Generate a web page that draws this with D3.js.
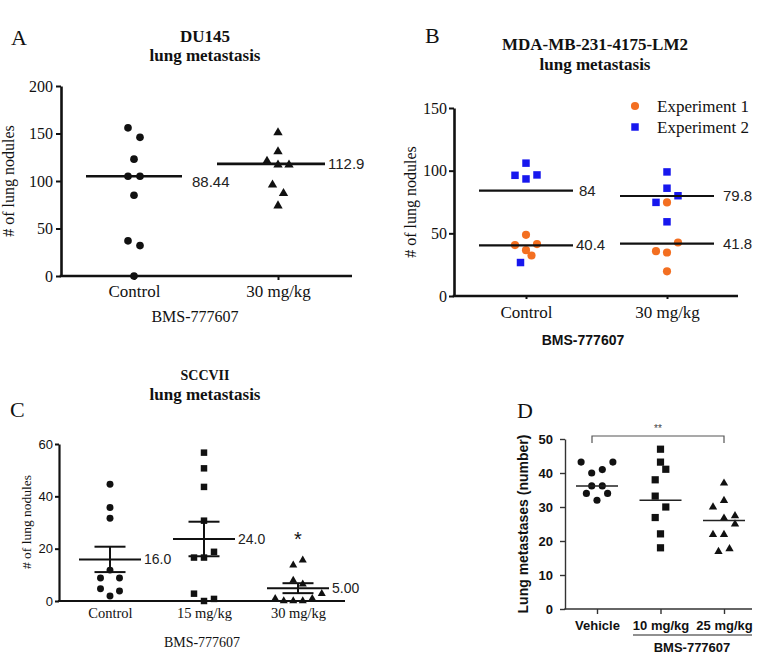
<!DOCTYPE html>
<html><head><meta charset="utf-8">
<script src="https://cdn.jsdelivr.net/npm/d3@7/dist/d3.min.js"></script>
<style>body{margin:0;background:#fff}</style>
</head><body><svg id="c" width="760" height="659" xmlns="http://www.w3.org/2000/svg"></svg>
<script>
// ================= DATA =================
// Panel A : DU145
const aGroups = ["Control", "30 mg/kg"];
const aTicks = [0, 50, 100, 150, 200];
const aControl = [156, 146, 123, 105, 105, 85, 37, 32, 0];
const aControlSlot = [-1, 1, 0, -1, 1, 0, -1, 1, 0];
const aDose = [151, 131, 121, 117, 117, 96, 87, 74];
const aDoseSlot = [0, 0, -2, 0, 2, -1, 1, 0];
const aLineValues = [105, 118];
const aLineLabels = ["88.44", "112.9"];

// Panel B : MDA-MB-231-4175-LM2
const bGroups = ["Control", "30 mg/kg"];
const bTicks = [0, 50, 100, 150];
const bSeries = ["Experiment 1", "Experiment 2"];
const bExp1Control = [48.8, 40.6, 41.4, 36.6, 32.3];
const bExp1ControlSlot = [0, -2, 2, 0, 1];
const bExp2Control = [106, 96.3, 93.4, 96.6, 26.7];
const bExp2ControlSlot = [0, -2, 0, 2, -1];
const bExp1Dose = [74.7, 42.7, 35.8, 34.7, 19.7];
const bExp1DoseSlot = [0, 2, -2, 0, 0];
const bExp2Dose = [99, 86, 80, 74.7, 59.2];
const bExp2DoseSlot = [0, 0, 2, -2, 0];
const bExp2Lines = [84, 79.8];
const bExp1Lines = [40.4, 41.8];
const bExp2LineLabels = ["84", "79.8"];
const bExp1LineLabels = ["40.4", "41.8"];

// Panel C : SCCVII
const cGroups = ["Control", "15 mg/kg", "30 mg/kg"];
const cTicks = [0, 20, 40, 60];
const cControl = [44.6, 35.7, 31.6, 11.8, 8.8, 8.8, 4.7, 3.8, 1.9];
const cControlSlot = [0, 0, 0, 0, -1, 1, -1, 1, 0];
const cDose15 = [56.7, 50.7, 43.6, 30.7, 18.8, 16.6, 16.6, 2.8, 0, 0.8];
const cDose15Slot = [0, 0, 0, 0, 1, -1, 0, -1, 0, 1];
const cDose30 = [15.6, 13.7, 7.9, 6.4, 0.9, 0, 0, 0, 0.9, 2.8];
const cDose30Slot = [0.5, -0.5, -0.5, 0.5, -2.4, -1.5, -0.5, 0.5, 1.5, 2.5];
const cMean = [15.9, 23.7, 4.9];
const cSem = [4.85, 6.6, 1.9];
const cMeanLabels = ["16.0", "24.0", "5.00"];

// Panel D : BMS-777607
const dGroups = ["Vehicle", "10 mg/kg", "25 mg/kg"];
const dTicks = [0, 10, 20, 30, 40, 50];
const dVehicle = [43.2, 43.2, 41, 40, 36.2, 36.2, 34, 34, 32];
const dVehicleSlot = [-3, 3, 1, -1, -1, 1, -2, 2, 0];
const dDose10 = [47, 43.2, 41.1, 38, 33.2, 30, 26.9, 22.1, 18];
const dDose10Slot = [0, 0, 1, -1, -1, 1, -1, 0, 0];
const dDose25 = [37, 31.9, 30, 27.4, 26.7, 25, 21.9, 21.9, 17.7, 16.9];
const dDose25Slot = [0, 0, -2, 2, 0, 2, -2, 0, 1, -1];
const dMedian = [36.2, 32, 26];

// ================= DRAW =================
const svg = d3.select("#c");
const SERIF = "'Liberation Serif', 'Times New Roman', serif";
const SANS = "'Liberation Sans', Arial, sans-serif";

function txt(g, s, x, y, opt = {}) {
  return g.append("text").attr("x", x).attr("y", y).text(s)
    .attr("font-family", opt.font || SERIF)
    .attr("font-size", opt.size || 16)
    .attr("font-weight", opt.weight || "normal")
    .attr("text-anchor", opt.anchor || "middle")
    .attr("fill", opt.fill || "#111");
}

function axes(g, x, y, c) {
  const ya = g.append("g").attr("transform", `translate(${c.axisX},0)`)
    .call(d3.axisLeft(y).tickValues(c.ticks).tickSize(c.yTick).tickSizeOuter(0).tickPadding(c.yPad));
  ya.select(".domain").attr("stroke", c.axisColor).attr("stroke-width", c.axisW);
  ya.selectAll(".tick line").attr("stroke", c.axisColor).attr("stroke-width", c.tickW);
  ya.selectAll(".tick text").attr("font-family", c.tickFont).attr("font-size", c.tickSize)
    .attr("font-weight", c.tickWeight || "normal").attr("fill", "#111");
  const xa = g.append("g").attr("transform", `translate(0,${y(0)})`)
    .call(d3.axisBottom(x).tickSize(c.xTick).tickSizeOuter(0).tickPadding(c.xPad));
  xa.select(".domain").remove();
  xa.selectAll(".tick line").attr("stroke", c.axisColor).attr("stroke-width", c.tickW);
  xa.selectAll(".tick text").attr("font-family", c.xFont || c.tickFont).attr("font-size", c.xSize)
    .attr("font-weight", c.tickWeight || "normal").attr("fill", "#111");
  g.append("line").attr("x1", c.axisX - c.axisW / 2).attr("x2", c.xEnd)
    .attr("y1", y(0)).attr("y2", y(0)).attr("stroke", c.axisColor).attr("stroke-width", c.axisW);
}

function dots(g, vals, slots, cx, unit, y, sym, size, fill) {
  g.selectAll(null).data(vals).enter().append("path")
    .attr("d", d3.symbol().type(sym).size(size))
    .attr("transform", (d, i) => `translate(${cx + slots[i] * unit},${y(d)})`)
    .attr("fill", fill);
}

function hline(g, x1, x2, yy, w, col) {
  g.append("line").attr("x1", x1).attr("x2", x2).attr("y1", yy).attr("y2", yy)
    .attr("stroke", col || "#111").attr("stroke-width", w);
}

// ---------- Panel A ----------
{
  const g = svg.append("g");
  const x = d3.scalePoint().domain(aGroups).range([134, 278]);
  const y = d3.scaleLinear().domain([0, 200]).range([276, 86]);
  axes(g, x, y, { axisX: 61, xEnd: 352, ticks: aTicks, yTick: 5, yPad: 3, xTick: 4, xPad: 5,
    axisW: 2.6, tickW: 2, axisColor: "#111", tickFont: SERIF, tickSize: 16, xSize: 17 });
  dots(g, aControl, aControlSlot, x("Control"), 6, y, d3.symbolCircle, 46, "#111");
  dots(g, aDose, aDoseSlot, x("30 mg/kg"), 5.5, y, d3.symbolTriangle, 38, "#111");
  const spans = [[-48, 48], [-61, 47]];
  aGroups.forEach((k, i) => {
    hline(g, x(k) + spans[i][0], x(k) + spans[i][1], y(aLineValues[i]), 2.6);
  });
  txt(g, aLineLabels[0], x("Control") + 58, y(aLineValues[0]) + 11, { font: SANS, size: 15, anchor: "start", fill: "#222" });
  txt(g, aLineLabels[1], x("30 mg/kg") + 50, y(aLineValues[1]) + 5, { font: SANS, size: 15, anchor: "start", fill: "#222" });
  txt(g, "A", 11, 45, { size: 22, anchor: "start" });
  txt(g, "DU145", 205, 42, { size: 17, weight: "bold" });
  txt(g, "lung metastasis", 205, 61, { size: 17, weight: "bold" });
  txt(g, "BMS-777607", 195, 322, { size: 16 });
  txt(g, "# of lung nodules", 0, 0, { size: 16 }).attr("transform", "translate(14,181) rotate(-90)");
}

// ---------- Panel B ----------
{
  const g = svg.append("g");
  const x = d3.scalePoint().domain(bGroups).range([526, 667]);
  const y = d3.scaleLinear().domain([0, 150]).range([296, 108]);
  axes(g, x, y, { axisX: 454, xEnd: 738, ticks: bTicks, yTick: 5, yPad: 2, xTick: 3, xPad: 7,
    axisW: 2.6, tickW: 2, axisColor: "#111", tickFont: SERIF, tickSize: 16, xSize: 17 });
  const orange = "#f36f21", blue = "#1717ee";
  dots(g, bExp1Control, bExp1ControlSlot, x("Control"), 5.5, y, d3.symbolCircle, 52, orange);
  dots(g, bExp2Control, bExp2ControlSlot, x("Control"), 5.5, y, d3.symbolSquare, 56, blue);
  dots(g, bExp1Dose, bExp1DoseSlot, x("30 mg/kg"), 5.5, y, d3.symbolCircle, 52, orange);
  dots(g, bExp2Dose, bExp2DoseSlot, x("30 mg/kg"), 5.5, y, d3.symbolSquare, 56, blue);
  bGroups.forEach((k, i) => {
    hline(g, x(k) - 47, x(k) + 47, y(bExp2Lines[i]), 2.2);
    hline(g, x(k) - 47, x(k) + 47, y(bExp1Lines[i]), 2.2);
    const off = i === 0 ? 53 : 56;
    txt(g, bExp2LineLabels[i], x(k) + off, y(bExp2Lines[i]) + 5, { font: SANS, size: 15, anchor: "start", fill: "#222" });
    txt(g, bExp1LineLabels[i], x(k) + off - (i === 0 ? 3 : 0), y(bExp1Lines[i]) + 5, { font: SANS, size: 15, anchor: "start", fill: "#222" });
  });
  // legend
  g.append("path").attr("d", d3.symbol().type(d3.symbolCircle).size(52)).attr("transform", "translate(635,106)").attr("fill", orange);
  g.append("path").attr("d", d3.symbol().type(d3.symbolSquare).size(56)).attr("transform", "translate(635,127)").attr("fill", blue);
  txt(g, bSeries[0], 657, 112, { size: 17, anchor: "start" });
  txt(g, bSeries[1], 657, 133, { size: 17, anchor: "start" });
  txt(g, "B", 425, 43, { size: 22, anchor: "start" });
  txt(g, "MDA-MB-231-4175-LM2", 595, 50, { size: 17, weight: "bold" });
  txt(g, "lung metastasis", 595, 70, { size: 17, weight: "bold" });
  txt(g, "BMS-777607", 583, 345, { font: SANS, size: 14, weight: "bold" });
  txt(g, "# of lung nodules", 0, 0, { size: 16 }).attr("transform", "translate(416,202) rotate(-90)");
}

// ---------- Panel C ----------
{
  const g = svg.append("g");
  const x = d3.scalePoint().domain(cGroups).range([110, 298]);
  const y = d3.scaleLinear().domain([0, 60]).range([601, 444]);
  axes(g, x, y, { axisX: 59, xEnd: 345, ticks: cTicks, yTick: 4, yPad: 2, xTick: 0, xPad: 7,
    axisW: 2.2, tickW: 2, axisColor: "#111", tickFont: SANS, tickSize: 13, xFont: SERIF, xSize: 14.5 });
  dots(g, cControl, cControlSlot, x("Control"), 9.5, y, d3.symbolCircle, 38, "#111");
  dots(g, cDose15, cDose15Slot, x("15 mg/kg"), 10, y, d3.symbolSquare, 42, "#111");
  dots(g, cDose30, cDose30Slot, x("30 mg/kg"), 9.5, y, d3.symbolTriangle, 28, "#111");
  cGroups.forEach((k, i) => {
    const cx = x(k);
    hline(g, cx - 31, cx + 31, y(cMean[i]), 2);
    hline(g, cx - 15.5, cx + 15.5, y(cMean[i] + cSem[i]), 2);
    hline(g, cx - 15.5, cx + 15.5, y(cMean[i] - cSem[i]), 2);
    g.append("line").attr("x1", cx).attr("x2", cx).attr("y1", y(cMean[i] + cSem[i])).attr("y2", y(cMean[i] - cSem[i]))
      .attr("stroke", "#111").attr("stroke-width", 2);
    txt(g, cMeanLabels[i], cx + 34, y(cMean[i]) + 5, { font: SANS, size: 14, anchor: "start", fill: "#222" });
  });
  txt(g, "*", x("30 mg/kg"), 546, { font: SANS, size: 20 });
  txt(g, "C", 10, 417, { size: 22, anchor: "start" });
  txt(g, "SCCVII", 205, 380, { size: 14, weight: "bold" });
  txt(g, "lung metastasis", 205, 400, { size: 17, weight: "bold" });
  txt(g, "BMS-777607", 202, 647, { size: 14 });
  txt(g, "# of lung nodules", 0, 0, { size: 13.5 }).attr("transform", "translate(31,522) rotate(-90)");
}

// ---------- Panel D ----------
{
  const g = svg.append("g");
  const x = d3.scalePoint().domain(dGroups).range([597, 724]);
  const y = d3.scaleLinear().domain([0, 50]).range([609, 439]);
  axes(g, x, y, { axisX: 565, xEnd: 752, ticks: dTicks, yTick: 5, yPad: 7, xTick: 5, xPad: 7,
    axisW: 1.4, tickW: 1.4, axisColor: "#333", tickFont: SANS, tickSize: 13, tickWeight: "bold", xSize: 13 });
  dots(g, dVehicle, dVehicleSlot, x("Vehicle"), 5.3, y, d3.symbolCircle, 40, "#111");
  dots(g, dDose10, dDose10Slot, x("10 mg/kg"), 5.3, y, d3.symbolSquare, 52, "#111");
  dots(g, dDose25, dDose25Slot, x("25 mg/kg"), 5.5, y, d3.symbolTriangle, 30, "#111");
  dGroups.forEach((k, i) => hline(g, x(k) - 21, x(k) + 21, y(dMedian[i]), 1.5, "#222"));
  // significance bracket
  const by = 436;
  g.append("path").attr("d", `M${x("Vehicle") - 5},${by + 7}V${by}H${x("25 mg/kg")}V${by + 7}`)
    .attr("fill", "none").attr("stroke", "#555").attr("stroke-width", 1.2);
  txt(g, "**", (x("Vehicle") - 5 + x("25 mg/kg")) / 2, 432, { font: SANS, size: 10, fill: "#444" });
  hline(g, 633, 752, 635, 1.2, "#222");
  txt(g, "BMS-777607", 692, 652, { font: SANS, size: 13, weight: "bold" });
  txt(g, "D", 517, 418, { size: 22, anchor: "start" });
  txt(g, "Lung metastases (number)", 0, 0, { font: SANS, size: 14, weight: "bold" }).attr("transform", "translate(528,524) rotate(-90)");
}
</script></body></html>
